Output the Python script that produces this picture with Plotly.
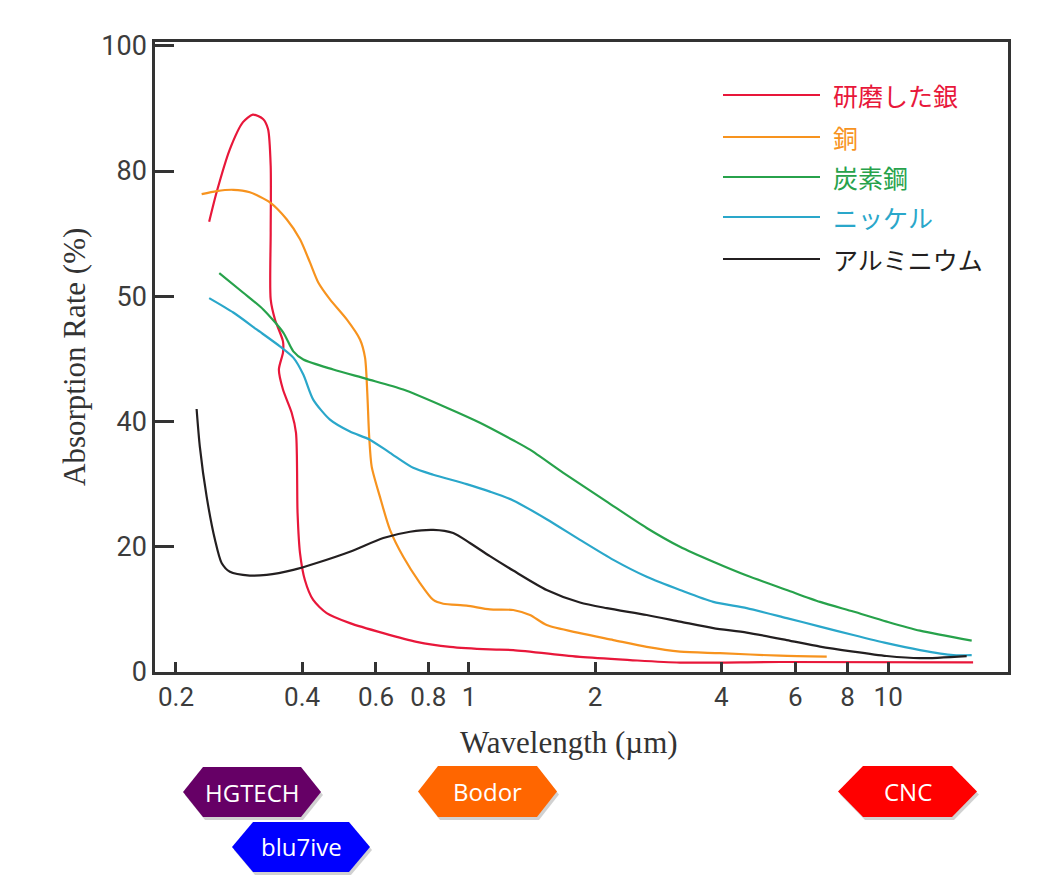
import plotly.graph_objects as go

# ---------------- data (wavelength in µm, absorption in %) ----------------
silver_x = [0.240, 0.250, 0.269, 0.289, 0.305, 0.3226, 0.3316, 0.3365, 0.3365, 0.3365, 0.3445, 0.360, 0.360,
            0.352, 0.360, 0.3776, 0.3867, 0.390, 0.3953, 0.406, 0.425, 0.4576, 0.520, 0.6246, 0.750, 0.901,
            1.122, 1.275, 1.840, 2.421, 3.186, 5.521, 15.94]
silver_y = [71.9, 76.6, 83.5, 87.8, 89.0, 88.3, 86.7, 80.8, 70.2, 59.5, 56.3, 52.8, 51.0,
            48.3, 45.1, 41.4, 38.2, 25.4, 19.0, 14.7, 11.5, 9.4, 7.8, 6.2, 4.8, 4.0,
            3.6, 3.5, 2.4, 1.9, 1.5, 1.6, 1.55]

copper_x = [0.2303, 0.250, 0.274, 0.300, 0.335, 0.3673, 0.3953, 0.4175, 0.437, 0.466, 0.511, 0.5495, 0.565,
            0.572, 0.578, 0.586, 0.613, 0.648, 0.697, 0.764, 0.822, 0.868, 0.987, 1.122, 1.275, 1.398,
            1.532, 1.840, 2.210, 2.654, 3.186, 3.970, 5.521, 7.135]
copper_y = [76.3, 76.8, 77.0, 76.6, 75.0, 72.3, 69.1, 65.4, 62.2, 59.5, 56.3, 53.1, 50.2,
            44.6, 37.6, 32.8, 28.0, 22.7, 18.4, 14.2, 11.5, 10.9, 10.6, 10.0, 9.9, 9.1,
            7.5, 6.2, 5.1, 4.0, 3.25, 3.0, 2.6, 2.45]

steel_x = [0.2537, 0.289, 0.323, 0.3606, 0.381, 0.4025, 0.4745, 0.570, 0.697, 0.885, 1.062, 1.275, 1.398,
           1.679, 2.131, 2.654, 3.186, 3.826, 4.598, 5.728, 6.877, 8.256, 9.918, 11.91, 15.82]
steel_y = [63.7, 60.6, 57.9, 54.2, 51.2, 49.9, 48.3, 46.8, 45.1, 42.2, 39.8, 37.0, 35.5,
           31.8, 27.2, 23.0, 20.0, 17.6, 15.4, 13.1, 11.2, 9.65, 8.05, 6.6, 5.0]

nickel_x = [0.240, 0.274, 0.3115, 0.354, 0.381, 0.4025, 0.425, 0.466, 0.520, 0.580, 0.648, 0.736, 0.822,
            0.987, 1.122, 1.275, 1.532, 1.840, 2.210, 2.654, 3.186, 3.826, 4.598, 5.728, 6.877, 8.256,
            9.918, 11.91, 14.30, 15.82]
nickel_y = [59.7, 57.4, 54.7, 52.0, 50.2, 47.5, 43.5, 40.3, 38.4, 37.1, 35.0, 32.6, 31.5,
            30.0, 28.8, 27.4, 24.4, 21.1, 17.9, 15.2, 13.1, 11.2, 10.2, 8.6, 7.25, 5.9,
            4.6, 3.5, 2.7, 2.7]

alum_x = [0.224, 0.228, 0.2367, 0.2478, 0.257, 0.269, 0.300, 0.329, 0.381, 0.433, 0.520, 0.6246, 0.7235,
          0.822, 0.917, 1.005, 1.122, 1.275, 1.532, 1.840, 2.131, 2.654, 3.186, 3.826, 4.598, 5.728,
          6.877, 8.256, 9.918, 11.91, 15.39]
alum_y = [42.0, 36.0, 28.0, 21.1, 17.4, 16.0, 15.4, 15.5, 16.3, 17.4, 19.2, 21.4, 22.4,
          22.7, 22.2, 20.6, 18.5, 16.2, 13.1, 11.1, 10.2, 9.1, 8.05, 7.0, 6.3, 5.1,
          4.05, 3.25, 2.55, 2.2, 2.55]

series_names = ["研磨した銀", "銅", "炭素鋼", "ニッケル", "アルミニウム"]
series_colors = ["#E8173A", "#F7931E", "#27A24B", "#2AA7CA", "#231F20"]

x_tickvals = [0.2, 0.4, 0.6, 0.8, 1, 2, 4, 6, 8, 10]
x_ticktext = ["0.2", "0.4", "0.6", "0.8", "1", "2", "4", "6", "8", "10"]
y_tickvals = [0, 20, 40, 60, 80, 100]
y_ticktext = ["0", "20", "40", "50", "80", "100"]

badge_labels = ["HGTECH", "blu7ive", "Bodor", "CNC"]
badge_colors = ["#660066", "#0000FF", "#FF6600", "#FF0000"]

# ---------------- layout geometry (page pixels; page body has 8px margin) ----------------
OFF = 8
W, H = 1042 - 2 * OFF, 883 - 2 * OFF
L_, R_, T_, B_ = 155, 1008, 42, 672


def pxx(x):
    return (x - L_) / (R_ - L_)


def pxy(y):
    return (B_ - y) / (B_ - T_)


fig = go.Figure()
xs = [silver_x, copper_x, steel_x, nickel_x, alum_x]
ys = [silver_y, copper_y, steel_y, nickel_y, alum_y]
for name, col, x, y in zip(series_names, series_colors, xs, ys):
    fig.add_trace(go.Scatter(x=x, y=y, mode="lines", name=name, showlegend=False,
                             line=dict(color=col, width=2.2, shape="spline", smoothing=0.7)))

shapes = []
annotations = []

# manual legend
leg_y = [95, 137, 177, 217, 259]
for name, col, yy in zip(series_names, series_colors, leg_y):
    shapes.append(dict(type="line", xref="paper", yref="paper", x0=pxx(723), x1=pxx(820),
                       y0=pxy(yy), y1=pxy(yy), line=dict(color=col, width=2.2)))
    annotations.append(dict(xref="paper", yref="paper", x=pxx(831), y=pxy(yy), text=name,
                            showarrow=False, xanchor="left", yanchor="middle",
                            font=dict(family="Noto Sans CJK JP", size=25, color=col)))

# hexagon badges: (left, right, top, bottom, indent)
badge_geom = [(183, 321, 767, 817, 20), (232, 370, 822, 872, 21),
              (418, 557, 766, 817, 20), (838, 977, 766, 817, 25)]


def hex_path(xl, xr, yt, yb, d, dx=0, dy=0):
    ym = (yt + yb) / 2
    pts = [(xl, ym), (xl + d, yt), (xr - d, yt), (xr, ym), (xr - d, yb), (xl + d, yb)]
    return "M " + " L ".join(f"{pxx(a + dx):.5f},{pxy(b + dy):.5f}" for a, b in pts) + " Z"


for lab, col, (xl, xr, yt, yb, d) in zip(badge_labels, badge_colors, badge_geom):
    shapes.append(dict(type="path", xref="paper", yref="paper", path=hex_path(xl, xr, yt, yb, d, 2, 3),
                       fillcolor="rgba(0,0,0,0.18)", line=dict(width=0), layer="above"))
    shapes.append(dict(type="path", xref="paper", yref="paper", path=hex_path(xl, xr, yt, yb, d),
                       fillcolor=col, line=dict(width=0), layer="above"))
    annotations.append(dict(xref="paper", yref="paper", x=pxx((xl + xr) / 2), y=pxy((yt + yb) / 2),
                            text=lab, showarrow=False, xanchor="center", yanchor="middle",
                            font=dict(family="Open Sans", size=24, color="white")))

# axis titles
annotations.append(dict(xref="paper", yref="paper", x=pxx(569), y=pxy(742), text="Wavelength (µm)",
                        showarrow=False, xanchor="center", yanchor="middle",
                        font=dict(family="Liberation Serif", size=31, color="#333")))
annotations.append(dict(xref="paper", yref="paper", x=pxx(74), y=pxy(357), text="Absorption Rate (%)",
                        showarrow=False, xanchor="center", yanchor="middle", textangle=-90,
                        font=dict(family="Liberation Serif", size=31, color="#333")))

fig.update_layout(
    width=W, height=H,
    margin=dict(l=L_ - OFF, r=W - (R_ - OFF), t=T_ - OFF, b=H - (B_ - OFF), pad=0),
    paper_bgcolor="white", plot_bgcolor="white",
    shapes=shapes, annotations=annotations,
    showlegend=False,
)
fig.update_xaxes(type="log", range=[-0.749, 1.2858], tickvals=x_tickvals, ticktext=x_ticktext,
                 ticks="inside", ticklen=10, tickwidth=2.5, tickcolor="#333",
                 showline=True, linecolor="#333", linewidth=2.5, mirror=True,
                 showgrid=False, zeroline=False,
                 tickfont=dict(family="Roboto", size=26, color="#3c3c3c"))
fig.update_yaxes(range=[0, 100.6], tickvals=y_tickvals, ticktext=y_ticktext,
                 ticks="inside", ticklen=19, tickwidth=2.5, tickcolor="#333",
                 showline=True, linecolor="#333", linewidth=2.5, mirror=True,
                 showgrid=False, zeroline=False,
                 tickfont=dict(family="Roboto", size=27, color="#3c3c3c"))

fig.write_html("out.html")
